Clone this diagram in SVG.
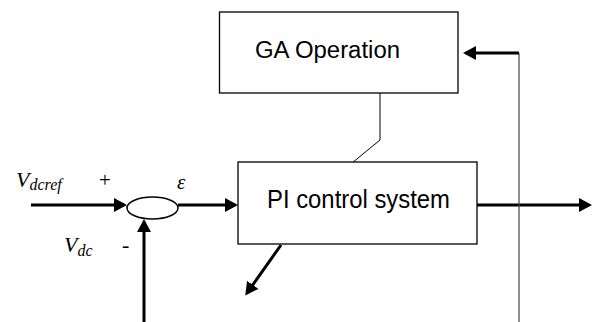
<svg xmlns="http://www.w3.org/2000/svg" width="592" height="322" viewBox="0 0 592 322">
<style>
.box{fill:#fff;stroke:#000;stroke-width:1.3}
.thick{fill:none;stroke:#000;stroke-width:3}
.thin{fill:none;stroke:#000;stroke-width:1}
.gray{fill:none;stroke:#444;stroke-width:1.2}
.lbl{font-family:"Liberation Sans",Arial,sans-serif;fill:#000}
.math{font-family:"Liberation Serif","Times New Roman",serif;font-style:italic;fill:#000}
.sign{font-family:"Liberation Serif","Times New Roman",serif;fill:#000}
</style>
<defs>
<marker id="ah" markerUnits="userSpaceOnUse" markerWidth="15" markerHeight="15" viewBox="0 0 15 15" refX="10" refY="7.5" orient="auto">
<path d="M0,0.5 L13,7.5 L0,14.5 z" fill="#000"/>
</marker>
</defs>
<rect width="592" height="322" fill="#fff"/>
<g id="connectors">
<line class="thick" x1="31" y1="205" x2="124" y2="205" marker-end="url(#ah)"/>
<line class="thick" x1="178" y1="205" x2="235" y2="205" marker-end="url(#ah)"/>
<line class="thick" x1="144" y1="322" x2="144" y2="222" marker-end="url(#ah)"/>
<line class="thick" x1="477" y1="205" x2="589" y2="205" marker-end="url(#ah)"/>
<line class="thick" x1="281" y1="245" x2="247" y2="293" marker-end="url(#ah)"/>
<polyline class="gray" points="519,322 519,53"/>
<line class="thick" x1="519" y1="53" x2="466" y2="53" marker-end="url(#ah)"/>
<polyline class="thin" points="380,93 380,140 352,163"/>
</g>
<g id="ga">
<rect class="box" x="219.5" y="12" width="238.5" height="81"/>
<text class="lbl" x="255" y="58" font-size="23" textLength="145" lengthAdjust="spacingAndGlyphs">GA Operation</text>
</g>
<g id="pi">
<rect class="box" x="238" y="162" width="239" height="82"/>
<text class="lbl" x="267" y="208" font-size="25" textLength="183" lengthAdjust="spacingAndGlyphs">PI control system</text>
</g>
<g id="sum">
<ellipse cx="152.5" cy="208" rx="25.5" ry="11" fill="#fff" stroke="#000" stroke-width="1.5"/>
</g>
<g id="labels">
<text class="math" x="16" y="187" font-size="22">V<tspan font-size="16" dy="3">dcref</tspan></text>
<text class="sign" x="99" y="187" font-size="21">+</text>
<text class="math" x="177" y="189" font-size="21">ε</text>
<text class="math" x="64" y="252" font-size="22">V<tspan font-size="16" dy="4">dc</tspan></text>
<text class="sign" x="122" y="252" font-size="22">-</text>
</g>
</svg>
